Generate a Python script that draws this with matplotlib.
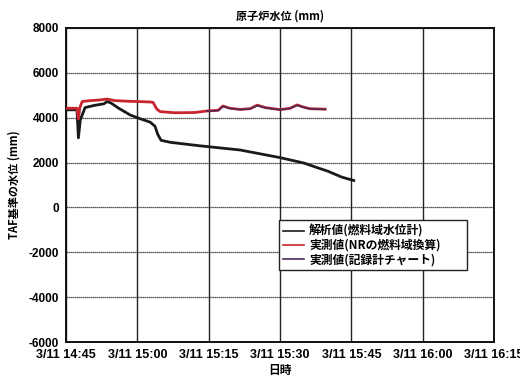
import matplotlib
matplotlib.use('Agg')
import datetime as dt
import matplotlib.pyplot as plt
import matplotlib.dates as mdates

plt.rcParams['font.family'] = ['Noto Sans CJK JP', 'DejaVu Sans']
plt.rcParams['axes.unicode_minus'] = False

t0 = dt.datetime(2011, 3, 11, 14, 45)

# 解析値（燃料域水位計） : 分(14:45起点), mm
kaiseki_min = [0.0, 2.3, 2.6, 3.0, 4.0, 6.0, 8.0, 8.6, 9.5, 11.0, 13.5, 15.5,
               17.7, 18.7, 19.3, 20.0, 22.0, 28.0, 36.6, 45.0, 50.0, 53.0,
               55.0, 58.0, 60.5]
kaiseki_mm = [4350, 4350, 3100, 3900, 4450, 4550, 4620, 4720, 4650, 4430,
              4120, 3960, 3800, 3620, 3250, 2990, 2900, 2750, 2560, 2220,
              1980, 1760, 1620, 1350, 1200]

# 実測値（NRの燃料域換算）
nr_min = [0.0, 2.3, 2.6, 2.9, 3.4, 5.0, 7.1, 8.6, 10.3, 13.5, 17.7, 18.3,
          19.1, 19.8, 22.9, 27.1, 29.6, 32.0, 33.0, 34.5, 36.6, 38.7, 40.2,
          41.9, 45.0, 47.1, 48.6, 49.8, 51.3, 54.5]
nr_mm = [4420, 4420, 3950, 4450, 4720, 4760, 4790, 4830, 4760, 4730, 4700,
         4680, 4380, 4270, 4220, 4230, 4300, 4330, 4520, 4420, 4370, 4400,
         4560, 4450, 4360, 4420, 4570, 4480, 4400, 4380]

# 実測値（記録計チャート）
chart_min = [29.6, 32.0, 33.0, 34.5, 36.6, 38.7, 40.2, 41.9, 45.0, 47.1,
             48.6, 49.8, 51.3, 54.5]
chart_mm = [4290, 4320, 4500, 4410, 4360, 4390, 4540, 4440, 4350, 4410,
            4550, 4470, 4390, 4370]

x_ticks = ['14:45', '15:00', '15:15', '15:30', '15:45', '16:00', '16:15']


def to_time(mins):
    return [t0 + dt.timedelta(minutes=m) for m in mins]


fig = plt.figure(figsize=(5.2, 3.83), dpi=100)
ax = fig.add_axes([0.127, 0.107, 0.823, 0.820])

ax.plot(to_time(kaiseki_min), kaiseki_mm, color='#1a1a1a', lw=2.0,
        label='解析値(燃料域水位計)', zorder=3)
ax.plot(to_time(nr_min), nr_mm, color='#c8262e', lw=2.0,
        label='実測値(NRの燃料域換算)', zorder=4)
ax.plot(to_time(chart_min), chart_mm, color='#4a2c58', lw=1.1,
        label='実測値(記録計チャート)', zorder=5)

tick_times = [dt.datetime(2011, 3, 11, int(s[:2]), int(s[3:])) for s in x_ticks]
ax.set_xlim(tick_times[0], tick_times[-1])
ax.set_xticks(tick_times)
ax.set_xticklabels(['3/11 ' + s for s in x_ticks], fontsize=9,
                   fontweight='bold', family=['Liberation Sans'])
ax.set_ylim(-6000, 8000)
ax.set_yticks(range(-6000, 8001, 2000))
for lab in ax.get_yticklabels():
    lab.set_fontsize(8.5)
    lab.set_fontweight('bold')
    lab.set_family(['Liberation Sans'])

ax.tick_params(length=0, pad=5)
ax.xaxis.grid(True, color='#222222', lw=1.0, ls='-')
ax.yaxis.grid(True, color='#222222', lw=0.9, ls=(0, (1, 0.6)))
for sp in ax.spines.values():
    sp.set_linewidth(1.4)
    sp.set_color('#111111')

ax.set_title('原子炉水位 (mm)', fontsize=8, fontweight='bold', pad=6)
ax.set_xlabel('日時', fontsize=8.5, fontweight='bold', labelpad=2)
ax.set_ylabel('TAF基準の水位 (mm)', fontsize=8, fontweight='bold', labelpad=6)

leg = ax.legend(loc='lower left', bbox_to_anchor=(0.484, 0.21, 0.467, 0.156),
                mode='expand', frameon=True, fancybox=False,
                handlelength=1.8, handletextpad=0.4, borderpad=0.35,
                labelspacing=0.1, prop={'weight': 'bold', 'size': 8.5})
leg.get_frame().set_edgecolor('#222222')
leg.get_frame().set_linewidth(1.0)
leg.get_frame().set_alpha(1)
for h in leg.get_lines():
    h.set_linewidth(1.2)

fig.savefig('out.png', dpi=100)
